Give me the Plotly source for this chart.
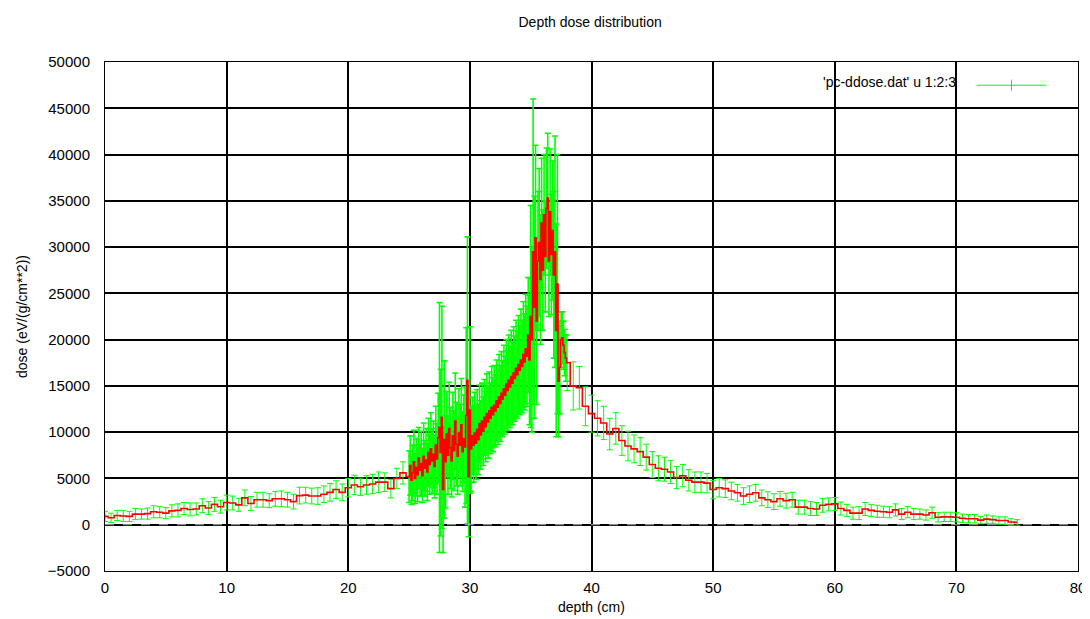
import plotly.graph_objects as go

# depth bins (cm): coarse before the peak, fine through the peak, coarse after
depth_a = [0.0, 0.5, 1.0, 1.5, 2.0, 2.5, 3.0, 3.5, 4.0, 4.5,
           5.0, 5.5, 6.0, 6.5, 7.0, 7.5, 8.0, 8.5, 9.0, 9.5,
           10.0, 10.5, 11.0, 11.5, 12.0, 12.5, 13.0, 13.5, 14.0, 14.5,
           15.0, 15.5, 16.0, 16.5, 17.0, 17.5, 18.0, 18.5, 19.0, 19.5,
           20.0, 20.5, 21.0, 21.5, 22.0, 22.5, 23.0, 23.5, 24.0, 24.5]
dose_a = [900, 750, 1000, 950, 900, 1150, 1150, 1200, 1400, 1350,
          1250, 1500, 1550, 1750, 1650, 1700, 2050, 1800, 2200, 1950,
          2400, 2350, 2150, 2900, 2300, 2700, 2700, 2600, 2800, 2800,
          2700, 2500, 3150, 3200, 3100, 3100, 3300, 3500, 3800, 3500,
          4000, 4300, 4100, 4300, 4400, 4600, 4600, 3900, 5000, 5600]
err_a = [550, 500, 550, 600, 550, 600, 550, 600, 650, 600,
         600, 650, 700, 650, 700, 650, 750, 700, 750, 700,
         800, 750, 700, 850, 750, 800, 800, 750, 800, 850,
         800, 800, 900, 850, 850, 900, 900, 950, 950, 900,
         1000, 1050, 950, 1000, 1050, 1100, 1000, 1000, 1100, 1200]

depth_b = [25.0, 25.1, 25.2, 25.3, 25.4, 25.5, 25.6, 25.7, 25.8, 25.9,
           26.0, 26.1, 26.2, 26.3, 26.4, 26.5, 26.6, 26.7, 26.8, 26.9,
           27.0, 27.1, 27.2, 27.3, 27.4, 27.5, 27.6, 27.7, 27.8, 27.9,
           28.0, 28.1, 28.2, 28.3, 28.4, 28.5, 28.6, 28.7, 28.8, 28.9,
           29.0, 29.1, 29.2, 29.3, 29.4, 29.5, 29.6, 29.7, 29.8, 29.9,
           30.0, 30.1, 30.2, 30.3, 30.4, 30.5, 30.6, 30.7, 30.8, 30.9,
           31.0, 31.1, 31.2, 31.3, 31.4, 31.5, 31.6, 31.7, 31.8, 31.9,
           32.0, 32.1, 32.2, 32.3, 32.4, 32.5, 32.6, 32.7, 32.8, 32.9,
           33.0, 33.1, 33.2, 33.3, 33.4, 33.5, 33.6, 33.7, 33.8, 33.9,
           34.0, 34.1, 34.2, 34.3, 34.4, 34.5, 34.6, 34.7, 34.8, 34.9,
           35.0, 35.1, 35.2, 35.3, 35.4, 35.5, 35.6, 35.7, 35.8, 35.9,
           36.0, 36.1, 36.2, 36.3, 36.4, 36.5, 36.6, 36.7, 36.8, 36.9,
           37.0, 37.1, 37.2, 37.3, 37.4, 37.5, 37.6, 37.7, 37.8, 37.9]
dose_b = [5200, 6400, 4800, 5600, 6800, 5000, 6200, 5400, 7200, 5900,
          6600, 5300, 7400, 6100, 7000, 5700, 7800, 6500, 8200, 6900,
          7600, 6300, 8600, 7100, 9400, 10500, 7800, 11600, 3800, 9200,
          6800, 9800, 7500, 10400, 8300, 6900, 9600, 8000, 11200, 8700,
          7400, 9900, 8600, 10800, 7900, 9300, 8400, 11800, 15600, 5200,
          12400, 8200, 9600, 8600, 9900, 8800, 10300, 9200, 10900, 9700,
          11200, 10100, 11600, 10600, 12000, 11100, 12300, 11500, 12700, 11900,
          12900, 12300, 13400, 12700, 13800, 13100, 14200, 13600, 14700, 14000,
          15200, 14500, 15600, 14900, 16000, 15300, 16400, 15800, 16900, 16200,
          17300, 16700, 17800, 17100, 18400, 17600, 19000, 18200, 20500, 17800,
          22500, 20000, 29500, 23500, 31000, 22000, 28500, 30500, 26500, 32600,
          27500, 33500, 29000, 34200, 35300, 28500, 33800, 29200, 31800, 27000,
          29500, 21000, 26000, 15500, 17000, 20000, 20200, 19400, 18600, 18000]
err_b = [2800, 3200, 2600, 3000, 3400, 2700, 3100, 2900, 3300, 2800,
         3500, 2900, 3600, 3000, 3400, 3100, 3700, 3200, 3900, 3500,
         3600, 3400, 4200, 3800, 4800, 13500, 9000, 12000, 6800, 8500,
         5000, 4600, 4200, 5000, 4400, 3900, 4700, 4300, 5200, 4500,
         4100, 4800, 4400, 5000, 4300, 4700, 6500, 9500, 15500, 6500,
         9000, 4600, 4200, 4000, 4400, 3900, 4300, 3800, 4200, 3700,
         4100, 3700, 4100, 3800, 4300, 3900, 4200, 3800, 4400, 4000,
         4300, 3900, 4400, 4000, 4600, 4100, 4500, 4100, 4700, 4200,
         4800, 4300, 4900, 4400, 5000, 4500, 5000, 4600, 5200, 4700,
         5300, 4800, 5500, 5000, 5700, 5200, 5900, 5400, 6200, 7000,
         12000, 10000, 16500, 12000, 10000, 9000, 7500, 8000, 7000, 7000,
         6500, 6500, 6000, 6500, 7000, 6000, 6800, 6500, 7500, 9000,
         12500, 11500, 14000, 6000, 5000, 3000, 2800, 2600, 2500, 2500]

depth_c = [38.0, 38.5, 39.0, 39.5, 40.0, 40.5, 41.0, 41.5, 42.0, 42.5,
           43.0, 43.5, 44.0, 44.5, 45.0, 45.5, 46.0, 46.5, 47.0, 47.5,
           48.0, 48.5, 49.0, 49.5, 50.0, 50.5, 51.0, 51.5, 52.0, 52.5,
           53.0, 53.5, 54.0, 54.5, 55.0, 55.5, 56.0, 56.5, 57.0, 57.5,
           58.0, 58.5, 59.0, 59.5, 60.0, 60.5, 61.0, 61.5, 62.0, 62.5,
           63.0, 63.5, 64.0, 64.5, 65.0, 65.5, 66.0, 66.5, 67.0, 67.5,
           68.0, 68.5, 69.0, 69.5, 70.0, 70.5, 71.0, 71.5, 72.0, 72.5,
           73.0, 73.5, 74.0, 74.5, 75.0]
dose_c = [17500, 15000, 14800, 12800, 12000, 11500, 11000, 9800, 10400, 9100,
          8500, 8200, 7900, 7300, 6500, 6100, 6000, 5700, 5100, 5300,
          4800, 4600, 4600, 4500, 3800, 4000, 3900, 3650, 3450, 3100,
          3300, 3450, 2900, 2700, 2500, 2800, 2600, 2700, 1900, 1900,
          1750, 1700, 2100, 2200, 2250, 1750, 1550, 1250, 1250, 1700,
          1550, 1450, 1400, 1350, 1600, 1150, 1350, 1150, 1150, 1050,
          1300, 800, 850, 850, 800, 700, 650, 650, 500, 600,
          550, 450, 450, 300, 250]
err_c = [3000, 2600, 2300, 2100, 2000, 1900, 1800, 1700, 1700, 1600,
         1600, 1500, 1500, 1400, 1400, 1350, 1300, 1250, 1200, 1200,
         1150, 1100, 1100, 1050, 1000, 1000, 950, 950, 900, 900,
         900, 900, 850, 850, 850, 800, 800, 800, 750, 750,
         750, 700, 750, 700, 700, 700, 650, 650, 700, 700,
         650, 650, 600, 600, 650, 600, 600, 600, 550, 550,
         600, 500, 500, 500, 500, 450, 450, 450, 400, 450,
         400, 400, 400, 350, 300]

depth = depth_a + depth_b + depth_c
dose = dose_a + dose_b + dose_c

FONT = "Liberation Sans, Arial, sans-serif"
GREEN = "#00ff00"

fig = go.Figure()

# green error bars; the dense fine-bin section is drawn a bit heavier
for xs, ys, es, thick in [(depth_a, dose_a, err_a, 1),
                          (depth_b, dose_b, err_b, 1.6),
                          (depth_c, dose_c, err_c, 1)]:
    fig.add_trace(go.Scatter(
        x=xs, y=ys, mode="markers",
        marker=dict(size=1, color="rgba(0,0,0,0)"),
        error_y=dict(type="data", array=es, color=GREEN, thickness=thick, width=3),
        showlegend=False, hoverinfo="skip",
    ))

# red histogram-step line
fig.add_trace(go.Scatter(
    x=depth, y=dose, mode="lines", line_shape="hvh",
    line=dict(color="#ff0000", width=1.6),
    showlegend=False,
))

# legend sample (text is drawn separately, gnuplot style)
fig.add_trace(go.Scatter(
    x=[None], y=[None], mode="lines+markers", name=" ",
    line=dict(color=GREEN, width=1),
    marker=dict(symbol="line-ns-open", size=8, color=GREEN,
                line=dict(color=GREEN, width=1)),
))

fig.add_shape(type="line", xref="paper", x0=0, x1=1, yref="y", y0=0, y1=0,
              line=dict(color="#b0b0b0", width=1, dash="dash"), layer="above")

fig.add_annotation(text="'pc-ddose.dat' u 1:2:3", xref="paper", yref="paper",
                   x=0.877, y=0.96, xanchor="right", yanchor="middle",
                   showarrow=False, font=dict(family=FONT, size=14, color="black"))

axis_common = dict(
    showline=True, linecolor="black", linewidth=1, mirror="ticks",
    ticks="inside", ticklen=6, tickcolor="black",
    showgrid=True, gridcolor="black", gridwidth=2,
    tickfont=dict(family=FONT, size=15, color="black"),
    automargin=False, zeroline=False,
)

# the page body adds an 8px offset, so the figure is sized to fit the window
fig.update_layout(
    width=1082, height=611,
    paper_bgcolor="white", plot_bgcolor="white",
    margin=dict(l=97, r=12, t=54, b=48),
    font=dict(family=FONT, size=14, color="black"),
    title=dict(text="Depth dose distribution", x=0.538, xanchor="center",
               y=0.977, yanchor="middle", font=dict(family=FONT, size=14)),
    xaxis=dict(range=[0, 80], dtick=10, ticklabelstandoff=3,
               title=dict(text="depth (cm)", standoff=7, font=dict(size=14)),
               **axis_common),
    yaxis=dict(range=[-5000, 50000], dtick=5000, tickformat="d",
               ticklabelstandoff=11,
               title=dict(text="dose (eV/(g/cm**2))", standoff=16, font=dict(size=14)),
               **axis_common),
    legend=dict(x=0.982, y=0.985, xanchor="right", yanchor="top",
                bgcolor="rgba(0,0,0,0)", itemwidth=70,
                font=dict(family=FONT, size=14)),
)

fig.write_html("out.html")
